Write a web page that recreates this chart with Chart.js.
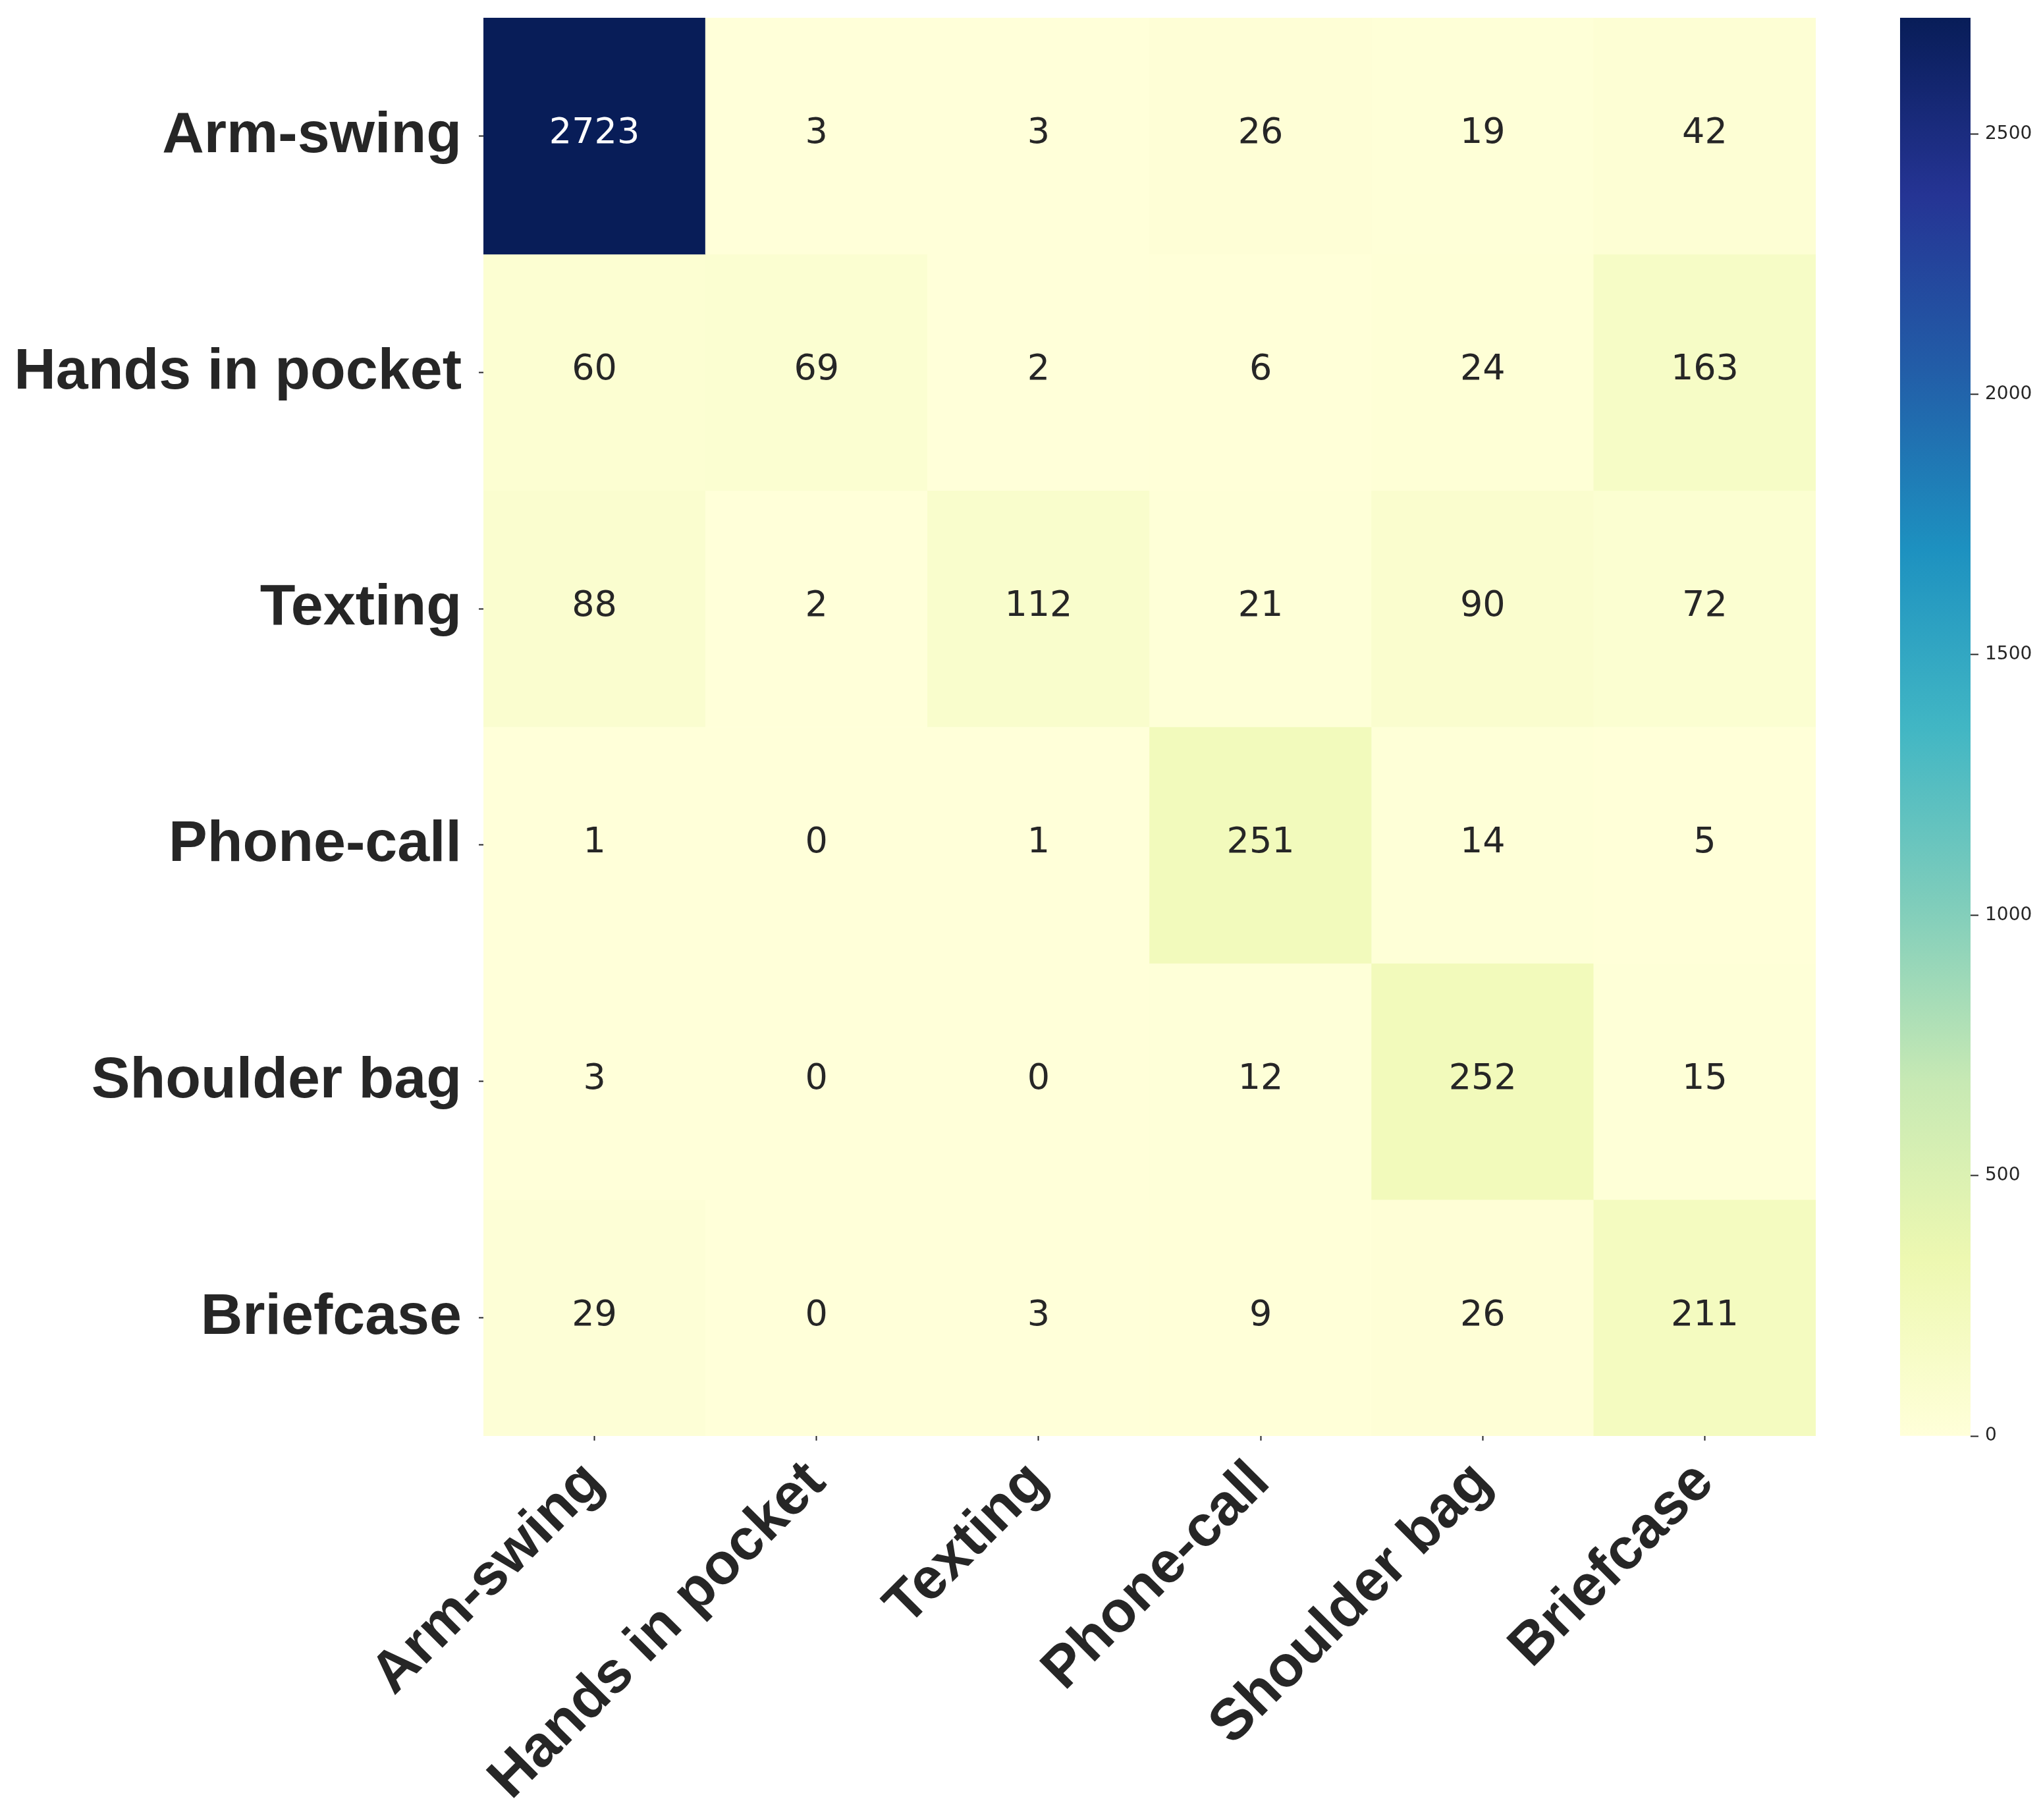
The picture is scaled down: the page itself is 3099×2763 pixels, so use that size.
<!DOCTYPE html>
<html>
<head>
<meta charset="utf-8">
<script src="https://cdn.jsdelivr.net/npm/chart.js@4/dist/chart.umd.min.js"></script>
<style>
  html, body { margin: 0; padding: 0; background: #ffffff; }
  #wrap { position: relative; width: 3099px; height: 2763px; }
  canvas { position: absolute; left: 0; top: 0; }
</style>
</head>
<body>
<div id="wrap">
  <canvas id="main" width="3099" height="2763"></canvas>
  <canvas id="cbar" width="3099" height="2763"></canvas>
</div>
<script>
// ---- data ----
const categories = ['Arm-swing', 'Hands in pocket', 'Texting', 'Phone-call', 'Shoulder bag', 'Briefcase'];
const rowArmSwing      = [2723, 3, 3, 26, 19, 42];
const rowHandsInPocket = [60, 69, 2, 6, 24, 163];
const rowTexting       = [88, 2, 112, 21, 90, 72];
const rowPhoneCall     = [1, 0, 1, 251, 14, 5];
const rowShoulderBag   = [3, 0, 0, 12, 252, 15];
const rowBriefcase     = [29, 0, 3, 9, 26, 211];
const colorbarTicks    = [0, 500, 1000, 1500, 2000, 2500];
const vmin = 0;
const vmax = 2723;

const matrix = [rowArmSwing, rowHandsInPocket, rowTexting, rowPhoneCall, rowShoulderBag, rowBriefcase];

// ---- YlGnBu colormap ----
const ylgnbu = ['#ffffd9', '#edf8b1', '#c7e9b4', '#7fcdbb', '#41b6c4', '#1d91c0', '#225ea8', '#253494', '#081d58'];
function hexToRgb(h) {
  return [parseInt(h.slice(1, 3), 16), parseInt(h.slice(3, 5), 16), parseInt(h.slice(5, 7), 16)];
}
function cmapRgb(v) {
  let t = (v - vmin) / (vmax - vmin);
  t = Math.max(0, Math.min(1, t));
  const pos = t * (ylgnbu.length - 1);
  const i = Math.min(Math.floor(pos), ylgnbu.length - 2);
  const f = pos - i;
  const a = hexToRgb(ylgnbu[i]), b = hexToRgb(ylgnbu[i + 1]);
  return [0, 1, 2].map(k => a[k] + (b[k] - a[k]) * f);
}
function colorFor(v) {
  const c = cmapRgb(v);
  return 'rgb(' + c.map(x => Math.round(x)).join(',') + ')';
}
function textColorFor(v) {
  const c = cmapRgb(v).map(x => {
    x /= 255;
    return x <= 0.03928 ? x / 12.92 : Math.pow((x + 0.055) / 1.055, 2.4);
  });
  const lum = 0.2126 * c[0] + 0.7152 * c[1] + 0.0722 * c[2];
  return lum > 0.408 ? '#262626' : '#ffffff';
}

const labelFont = { family: '"Liberation Sans", Arial, sans-serif', size: 88, weight: 'bold' };
const darkGray = '#262626';

// ---- annotation plugin ----
const annotatePlugin = {
  id: 'annotate',
  afterDatasetsDraw(chart) {
    const { ctx } = chart;
    const xs = chart.scales.x, ys = chart.scales.y;
    ctx.save();
    ctx.font = '54px "DejaVu Sans", sans-serif';
    ctx.textAlign = 'center';
    ctx.textBaseline = 'middle';
    matrix.forEach((row, r) => {
      row.forEach((v, c) => {
        ctx.fillStyle = textColorFor(v);
        ctx.fillText(String(v), xs.getPixelForValue(c), ys.getPixelForValue(r) - 3);
      });
    });
    ctx.restore();
  }
};

// ---- main heatmap ----
const datasets = matrix.map((row, r) => ({
  label: categories[r],
  data: row.map(() => [r - 0.5, r + 0.5]),
  backgroundColor: row.map(colorFor),
  borderWidth: 0,
  categoryPercentage: 1.0,
  barPercentage: 1.0,
  grouped: false
}));

new Chart(document.getElementById('main'), {
  type: 'bar',
  data: { labels: categories, datasets },
  options: {
    responsive: false,
    animation: false,
    devicePixelRatio: 1,
    layout: { padding: { left: 0, top: 27, right: 342, bottom: 0 } },
    plugins: { legend: { display: false }, tooltip: { enabled: false } },
    scales: {
      x: {
        type: 'category',
        offset: true,
        grid: { display: true, offset: false, drawOnChartArea: false, drawTicks: true, tickLength: 7, tickColor: darkGray, tickWidth: 2 },
        border: { display: false },
        ticks: {
          autoSkip: false, minRotation: 45, maxRotation: 45,
          font: labelFont, color: darkGray, padding: 12
        },
        afterFit(scale) {
          scale.height = 583;
          scale.paddingLeft = 0; scale.paddingRight = 0;
        }
      },
      y: {
        type: 'linear',
        min: -0.5, max: 5.5,
        reverse: true,
        afterBuildTicks(scale) { scale.ticks = categories.map((_, i) => ({ value: i })); },
        grid: { display: true, drawOnChartArea: false, drawTicks: true, tickLength: 7, tickColor: darkGray, tickWidth: 2 },
        border: { display: false },
        ticks: {
          font: labelFont, color: darkGray, padding: 26,
          callback: (v) => categories[v]
        },
        afterFit(scale) {
          scale.width = 734;
          scale.paddingTop = 0; scale.paddingBottom = 0;
        }
      }
    }
  },
  plugins: [annotatePlugin]
});

// ---- colorbar ----
new Chart(document.getElementById('cbar'), {
  type: 'bar',
  data: {
    labels: ['colorbar'],
    datasets: [{
      data: [[vmin, vmax]],
      backgroundColor(ctx) {
        const chart = ctx.chart;
        if (!chart.chartArea) return ylgnbu[0];
        const ys = chart.scales.y;
        const g = chart.ctx.createLinearGradient(0, ys.getPixelForValue(vmin), 0, ys.getPixelForValue(vmax));
        ylgnbu.forEach((c, i) => g.addColorStop(i / (ylgnbu.length - 1), c));
        return g;
      },
      borderWidth: 0,
      categoryPercentage: 1.0,
      barPercentage: 1.0
    }]
  },
  options: {
    responsive: false,
    animation: false,
    devicePixelRatio: 1,
    layout: { padding: { left: 2885, top: 27, right: 0, bottom: 583 } },
    plugins: { legend: { display: false }, tooltip: { enabled: false } },
    scales: {
      x: { display: false },
      y: {
        type: 'linear',
        position: 'right',
        min: vmin, max: vmax,
        afterBuildTicks(scale) { scale.ticks = colorbarTicks.map(v => ({ value: v })); },
        grid: { display: true, drawOnChartArea: false, drawTicks: true, tickLength: 12, tickColor: darkGray, tickWidth: 2 },
        border: { display: false },
        ticks: {
          font: { family: '"DejaVu Sans", sans-serif', size: 28 },
          color: darkGray, padding: 10,
          callback: (v) => String(v)
        },
        afterFit(scale) {
          scale.width = 107;
          scale.paddingTop = 0; scale.paddingBottom = 0;
        }
      }
    }
  }
});
</script>
</body>
</html>
